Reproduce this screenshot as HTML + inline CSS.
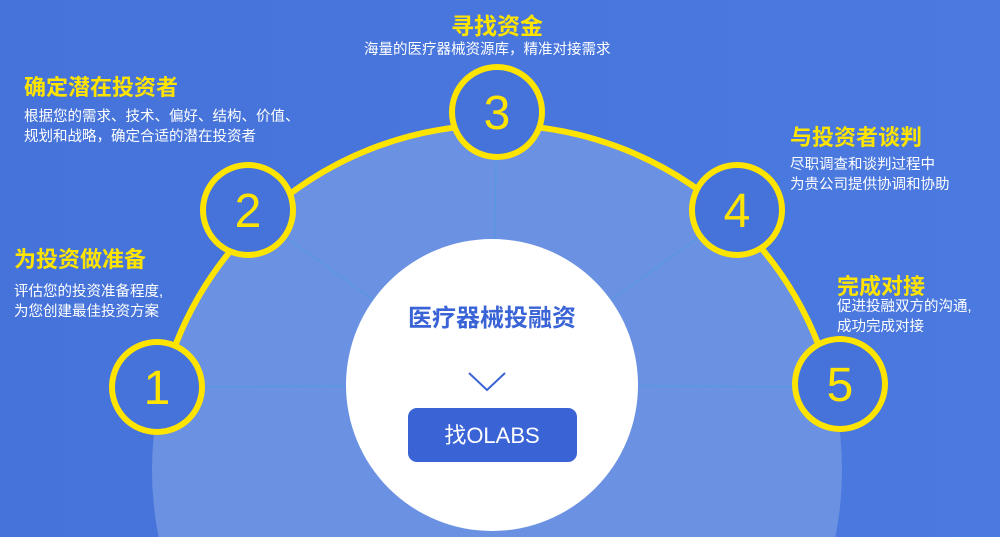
<!DOCTYPE html>
<html><head><meta charset="utf-8"><style>
html,body{margin:0;overflow:hidden;width:1000px;height:537px}
#w{position:relative;width:1000px;height:537px;overflow:hidden;background:linear-gradient(90deg,#4673da,#4a79df);font-family:"Liberation Sans","Noto Sans CJK SC",sans-serif}
.t{position:absolute;color:#ffe400;font-weight:bold;font-size:22px;white-space:nowrap}
.d{position:absolute;color:#fff;font-size:14.5px;line-height:20px;white-space:nowrap}
</style></head><body><div id="w">
<svg width="1000" height="537" style="position:absolute;left:0;top:0">
<defs><clipPath id="c"><rect x="0" y="0" width="1000" height="392"/></clipPath></defs>
<circle cx="497" cy="470" r="345" fill="#6b91e2"/>
<path d="M152 470 A345 345 0 0 1 842 470" fill="none" stroke="#ffe400" stroke-width="6" clip-path="url(#c)"/>
<g stroke="#4f9be0" stroke-width="1.2" opacity="0.8">
<line x1="492" y1="385" x2="157" y2="387"/><line x1="492" y1="385" x2="248" y2="210"/>
<line x1="492" y1="385" x2="737" y2="210"/><line x1="492" y1="385" x2="840" y2="387"/>
<line x1="492" y1="385" x2="497" y2="112"/>
</g>
<circle cx="492" cy="385" r="146" fill="#fff"/>
<g fill="#4673da" stroke="#ffe400" stroke-width="6">
<circle cx="157" cy="387" r="45"/><circle cx="248" cy="210" r="45"/><circle cx="497" cy="112" r="45"/>
<circle cx="737" cy="210" r="45"/><circle cx="840" cy="384" r="45"/>
</g>
<g fill="#ffe400" font-size="48" text-anchor="middle" font-family="Liberation Sans,sans-serif">
<text x="157" y="404">1</text><text x="248" y="227">2</text><text x="497" y="129">3</text><text x="737" y="227">4</text><text x="840" y="401">5</text>
</g>
<polyline points="469,373 487,390 505,373" fill="none" stroke="#3a64d6" stroke-width="2"/>
<text x="492" y="326" text-anchor="middle" fill="#3a64d6" font-size="24" font-weight="bold" font-family="Liberation Sans,Noto Sans CJK SC,sans-serif">医疗器械投融资</text>
<rect x="408" y="408" width="169" height="54" rx="9" fill="#3a64d6"/>
<text x="492" y="443" text-anchor="middle" fill="#fff" font-size="22" font-family="Liberation Sans,Noto Sans CJK SC,sans-serif">找OLABS</text>
</svg>
<div class="t" style="left:451px;top:7px;font-size:23px">寻找资金</div>
<div class="d" style="left:364px;top:40px">海量的医疗器械资源库，精准对接需求</div>
<div class="t" style="left:24px;top:70px">确定潜在投资者</div>
<div class="d" style="left:24px;top:107px">根据您的需求、技术、偏好、结构、价值、<br>规划和战略，确定合适的潜在投资者</div>
<div class="t" style="left:14px;top:242px">为投资做准备</div>
<div class="d" style="left:14px;top:282px">评估您的投资准备程度,<br>为您创建最佳投资方案</div>
<div class="t" style="left:790px;top:120px">与投资者谈判</div>
<div class="d" style="left:790px;top:155px">尽职调查和谈判过程中<br>为贵公司提供协调和协助</div>
<div class="t" style="left:837px;top:269px">完成对接</div>
<div class="d" style="left:837px;top:297px">促进投融双方的沟通,<br>成功完成对接</div>
</div></body></html>
